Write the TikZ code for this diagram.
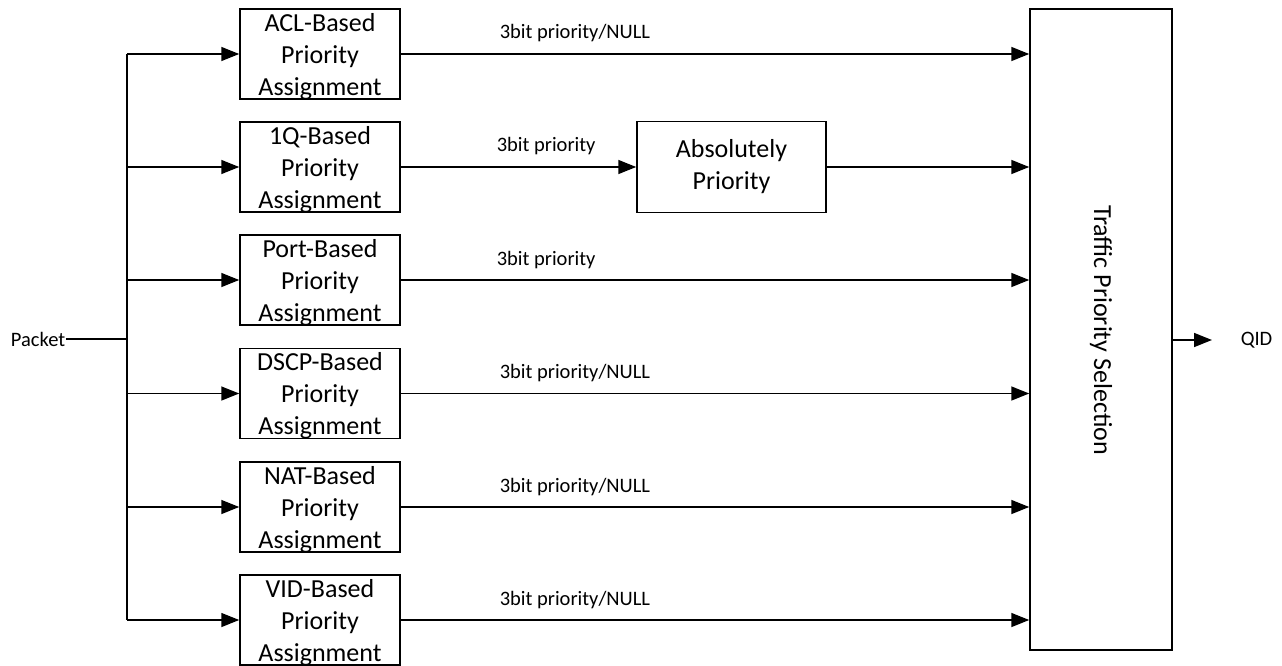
\documentclass[tikz,border=0pt]{standalone}
\usepackage{fontspec}
\setmainfont{Carlito}
\usetikzlibrary{arrows.meta}
\begin{document}
\begin{tikzpicture}[x=1pt,y=-1pt, line width=1.5pt,
 pbox/.style={draw, minimum width=160pt, minimum height=90pt, inner sep=0pt, text depth=0pt, align=center, font=\fontsize{26}{32}\selectfont},
 lbl/.style={font=\fontsize{20.5}{24}\selectfont, anchor=base west, inner sep=0pt},
 small/.style={font=\fontsize{20.5}{24}\selectfont, inner sep=0pt},
 arr/.style={-{Triangle[length=18pt,width=14pt]}}]
\useasboundingbox (0,0) rectangle (1282,666);
\node[pbox] (b1) at (320,54) {ACL-Based\\Priority\\Assignment};
\node[pbox] (b2) at (320,167) {1Q-Based\\Priority\\Assignment};
\node[pbox] (b3) at (320,280) {Port-Based\\Priority\\Assignment};
\node[pbox] (b4) at (320,393.5) {DSCP-Based\\Priority\\Assignment};
\node[pbox] (b5) at (320,507) {NAT-Based\\Priority\\Assignment};
\node[pbox] (b6) at (320,620) {VID-Based\\Priority\\Assignment};
\node[pbox, minimum width=189pt, minimum height=91pt, text depth=] (abs) at (731.5,167) {Absolutely\\Priority};
\node[draw, minimum width=142pt, minimum height=641pt, inner sep=0pt] (sel) at (1101,329.5) {};
\node[rotate=-90, font=\fontsize{26}{32}\selectfont, inner sep=0pt] (selt) at (1101,330) {Traffic Priority Selection};
\node[small, anchor=east] (packet) at (66,339) {Packet};
\coordinate (bus) at (127,339);
\node[small, anchor=west] (qid) at (1240,340) {QID};
% input bus
\draw (packet.east) -- (bus);
\draw (bus |- b1.west) -- (bus |- b6.west);
\foreach \b in {b1,b2,b3,b4,b5,b6} {
  \draw[arr] (bus |- \b.west) -- (\b.west);
}
% outputs
\draw[arr] (b1.east) -- (sel.west |- b1.east);
\draw[arr] (b2.east) -- (abs.west);
\draw[arr] (abs.east) -- (sel.west |- abs.east);
\draw[arr] (b3.east) -- (sel.west |- b3.east);
\draw[arr] (b4.east) -- (sel.west |- b4.east);
\draw[arr] (b5.east) -- (sel.west |- b5.east);
\draw[arr] (b6.east) -- (sel.west |- b6.east);
\draw[arr] (sel.east |- qid.west) -- ([xshift=-28pt]qid.west);
% labels
\node[lbl] (l1) at (499,39) {3bit priority/NULL};
\node[lbl] (l2) at (496,152) {3bit priority};
\node[lbl] (l3) at (496,265) {3bit priority};
\node[lbl] (l4) at (499,378.5) {3bit priority/NULL};
\node[lbl] (l5) at (499,492) {3bit priority/NULL};
\node[lbl] (l6) at (499,605) {3bit priority/NULL};
\end{tikzpicture}
\end{document}
